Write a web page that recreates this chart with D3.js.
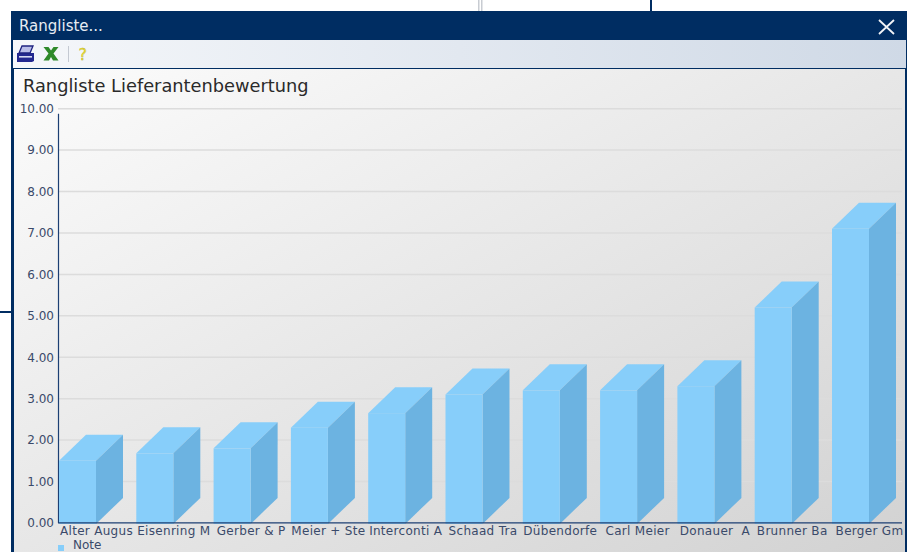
<!DOCTYPE html>
<html><head><meta charset="utf-8">
<script src="https://cdn.jsdelivr.net/npm/d3@7"></script>
<style>html,body{margin:0;padding:0;background:#fff;overflow:hidden}svg{display:block}</style>
</head><body><svg id="c" width="914" height="552"></svg>
<script>
const categories = ["Alter Augus","Eisenring M","Gerber & P","Meier + Ste","Interconti A","Schaad Tra","Dübendorfe","Carl Meier","Donauer  A","Brunner Ba","Berger Gm"];
const noteValues = [1.5,1.68,1.8,2.3,2.65,3.1,3.2,3.2,3.3,5.2,7.1];
const yTicks = [0,1,2,3,4,5,6,7,8,9,10];
const chartTitle = "Rangliste Lieferantenbewertung";
const windowTitle = "Rangliste...";
const legendLabel = "Note";

const NAVY="#002d62", LF="'DejaVu Sans', sans-serif", TXT="#3a4a6a";
const svg=d3.select("#c");
const defs=svg.append("defs");
const bg=defs.append("linearGradient").attr("id","bg").attr("x1","0").attr("y1","0").attr("x2","1").attr("y2","1");
bg.append("stop").attr("offset","0").attr("stop-color","#fcfcfc");
bg.append("stop").attr("offset","1").attr("stop-color","#d2d2d2");
const tb=defs.append("linearGradient").attr("id","tb").attr("x1","0").attr("y1","0").attr("x2","1").attr("y2","0");
tb.append("stop").attr("offset","0").attr("stop-color","#f5f7fa");
tb.append("stop").attr("offset","1").attr("stop-color","#cfd9e6");

// page behind the dialog
svg.append("rect").attr("x",478).attr("y",0).attr("width",1.5).attr("height",11).attr("fill","#c8ccd2");
svg.append("rect").attr("x",481).attr("y",0).attr("width",1.5).attr("height",11).attr("fill","#c8ccd2");
svg.append("rect").attr("x",650).attr("y",0).attr("width",2).attr("height",11).attr("fill",NAVY);
svg.append("rect").attr("x",0).attr("y",311).attr("width",11).attr("height",2).attr("fill",NAVY);

// dialog
svg.append("rect").attr("x",11).attr("y",11).attr("width",896).attr("height",541).attr("fill",NAVY);
svg.append("rect").attr("x",13).attr("y",40).attr("width",893).attr("height",28).attr("fill","url(#tb)");
svg.append("rect").attr("x",14).attr("y",69).attr("width",891).attr("height",483).attr("fill","url(#bg)");
svg.append("text").attr("x",19).attr("y",31).attr("fill","#e8edf4").attr("font-family",LF).attr("font-size",15).text(windowTitle);
svg.append("path").attr("d","M879 20L894 34M894 20L879 34").attr("stroke","#f2f4f7").attr("stroke-width",1.8).attr("fill","none");

// toolbar icons
svg.append("path").attr("d","M17 53h17v8l-2 1h-15z").attr("fill","#23288f");
svg.append("path").attr("d","M22 46h11l-3 7h-11z").attr("fill","#b9bde8").attr("stroke","#1f2380").attr("stroke-width",1.3);
svg.append("rect").attr("x",19).attr("y",56).attr("width",13).attr("height",1.600).attr("fill","#d5d9f2");
svg.append("path").attr("d","M43.500 47h5l2.500 3.500 2.500-3.500h5l-5 6.500 5 7h-5.500l-2-3.500-2 3.500h-5.500l5-7z").attr("fill","#2f8a2a");
svg.append("rect").attr("x",68).attr("y",46).attr("width",1).attr("height",16).attr("fill","#c4c9d2");
svg.append("text").attr("x",78.500).attr("y",60).attr("fill","#f0e43a").attr("stroke","#a89a10").attr("stroke-width",.3).attr("font-family",LF).attr("font-size",16).text("?");

svg.append("text").attr("x",23).attr("y",92).attr("fill","#2a2a2a").attr("font-family",LF).attr("font-size",17.8).text(chartTitle);

// scales
const x=d3.scaleBand().domain(categories).range([59,869]).paddingInner(0.5213).paddingOuter(0);
const y=d3.scaleLinear().domain([0,10]).range([522.9,108.7]);
const depthX=27, depthY=26, right=902, axisX=58;

// gridlines
svg.append("g").selectAll("line").data(yTicks.filter(d=>d>0)).join("line")
  .attr("x1",axisX).attr("x2",right).attr("y1",d=>y(d)).attr("y2",d=>y(d))
  .attr("stroke","#dcdcdc").attr("stroke-width",1.5);

// y axis
const yAxis=svg.append("g").attr("transform",`translate(${axisX},0)`)
  .call(d3.axisLeft(y).tickValues(yTicks).tickFormat(d3.format(".2f")).tickSize(0).tickPadding(4));
yAxis.select(".domain").remove();
yAxis.selectAll("text").attr("fill",TXT).attr("font-family",LF).attr("font-size",12);
svg.append("line").attr("x1",axisX+.5).attr("x2",axisX+.5).attr("y1",y(10)+5).attr("y2",y(0)).attr("stroke","#1c3f73").attr("stroke-width",1.2);

// bars
const bars=svg.append("g").selectAll("g").data(categories).join("g");
const bw=x.bandwidth();
bars.append("path").attr("fill","#87cefa").attr("d",(c,i)=>{const l=x(c),r=l+bw,t=y(noteValues[i]);
  return `M${l} ${t}L${l+depthX} ${t-depthY}L${r+depthX} ${t-depthY}L${r} ${t}Z`;});
bars.append("path").attr("fill","#6cb3e1").attr("d",(c,i)=>{const r=x(c)+bw,t=y(noteValues[i]),b=y(0)+1;
  return `M${r} ${t}L${r+depthX} ${t-depthY}L${r+depthX} ${b-depthY}L${r} ${b}Z`;});
bars.append("rect").attr("fill","#87cefa").attr("x",c=>x(c)).attr("width",bw)
  .attr("y",(c,i)=>y(noteValues[i])).attr("height",(c,i)=>y(0)+1-y(noteValues[i]));

// x axis
svg.append("line").attr("x1",axisX).attr("x2",right).attr("y1",y(0)).attr("y2",y(0)).attr("stroke","#1c3f73").attr("stroke-width",1.2);
svg.append("g").selectAll("text").data(categories).join("text")
  .attr("x",c=>x(c)+bw+.5).attr("y",534.5).attr("text-anchor","middle")
  .style("white-space","pre").attr("letter-spacing",.3)
  .attr("fill",TXT).attr("font-family",LF).attr("font-size",12).text(c=>c);

// legend
svg.append("rect").attr("x",58).attr("y",545).attr("width",6).attr("height",6).attr("fill","#87cefa");
svg.append("text").attr("x",73).attr("y",549).attr("fill",TXT).attr("font-family",LF).attr("font-size",12).text(legendLabel);
</script></body></html>
